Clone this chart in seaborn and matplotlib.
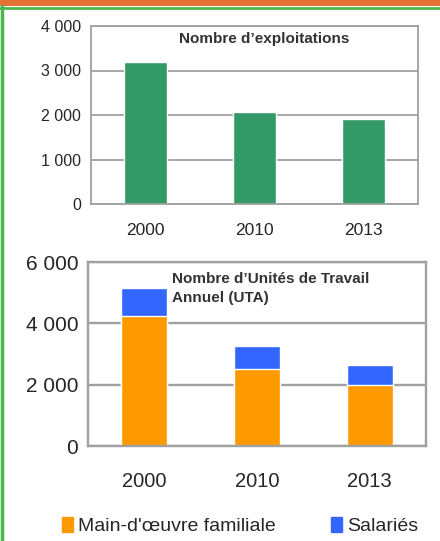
import matplotlib
matplotlib.use("Agg")
import matplotlib.pyplot as plt
from matplotlib.lines import Line2D
from matplotlib.patches import Rectangle
import pandas as pd
import seaborn as sns

sns.set_theme(style="white")
plt.rcParams['font.family'] = ['Liberation Sans', 'DejaVu Sans']

# data
years = ["2000", "2010", "2013"]
exploitations = [3200, 2070, 1910]
main_oeuvre_familiale = [4250, 2520, 2000]
salaries = [910, 750, 650]

GREEN = "#339966"
ORANGE = "#FF9900"
BLUE = "#3366FF"
GRID = "#a0a0a0"

fig = plt.figure(figsize=(4.40, 5.41), dpi=100)

# frame: orange strip, green rules
fig.add_artist(Rectangle((0, 1 - 6 / 541), 1, 6 / 541, transform=fig.transFigure,
                         color="#E37233", lw=0))
fig.add_artist(Line2D([0, 1], [1 - 7.5 / 541] * 2, transform=fig.transFigure,
                      color="#4CB84C", lw=2))
fig.add_artist(Line2D([2 / 440] * 2, [0, 1 - 6 / 541], transform=fig.transFigure,
                      color="#4CB84C", lw=2.5))


def style_axes(ax, ymax, step, yfs, xfs, xpad, lw):
    ax.set_xlim(-0.5, 2.5)
    ax.set_ylim(0, ymax)
    ax.set_yticks(range(0, ymax + 1, step))
    ax.set_yticklabels([f"{v:,}".replace(",", " ") for v in range(0, ymax + 1, step)],
                       fontsize=yfs)
    ax.set_xticks([-0.5, 0.5, 1.5, 2.5], minor=True)
    ax.tick_params(axis="x", which="major", length=0, labelsize=xfs, pad=xpad)
    ax.tick_params(axis="x", which="minor", length=5, width=lw, color=GRID, direction="out")
    ax.tick_params(axis="y", length=5, width=lw, color=GRID, direction="out", pad=2)
    ax.yaxis.grid(True, color=GRID, lw=lw)
    ax.set_axisbelow(True)
    for s in ax.spines.values():
        s.set_color(GRID)
        s.set_linewidth(lw)
    ax.set_xlabel("")
    ax.set_ylabel("")


# top chart: number of farms
ax1 = fig.add_axes([91 / 440, 1 - 204 / 541, 327 / 440, 178 / 541])
df1 = pd.DataFrame({"Année": years, "Exploitations": exploitations})
sns.barplot(data=df1, x="Année", y="Exploitations", color=GREEN, width=0.4,
            saturation=1, ax=ax1)
style_axes(ax1, 4000, 1000, 11.5, 12.5, 14, 1.3)
ax1.text(0.53, 0.925, "Nombre d\u2019exploitations", transform=ax1.transAxes,
         ha="center", va="center", fontsize=11, fontweight="bold", color="#333333")

# bottom chart: UTA, stacked
ax2 = fig.add_axes([88 / 440, 1 - 446 / 541, 338 / 440, 184 / 541])
df2 = pd.DataFrame({"Année": years,
                    "Familiale": main_oeuvre_familiale,
                    "Salariés": salaries})
df2["Total"] = df2["Familiale"] + df2["Salariés"]
sns.barplot(data=df2, x="Année", y="Total", color=BLUE, width=0.41,
            saturation=1, ax=ax2)
sns.barplot(data=df2, x="Année", y="Familiale", color=ORANGE, width=0.41,
            saturation=1, ax=ax2)
style_axes(ax2, 6000, 2000, 15, 14.5, 19, 1.7)
ax2.text(0.248, 0.855, "Nombre d\u2019Unités de Travail\nAnnuel (UTA)",
         transform=ax2.transAxes, ha="left", va="center", fontsize=11,
         fontweight="bold", color="#333333", linespacing=1.4)

# legend
handles = [Rectangle((0, 0), 1, 1, color=ORANGE), Rectangle((0, 0), 1, 1, color=BLUE)]
fig.legend(handles, ["Main-d'\u0153uvre familiale", "Salariés"], loc="center",
           bbox_to_anchor=(240 / 440, 1 - 526 / 541), ncol=2, frameon=False,
           fontsize=14, handlelength=0.6, handleheight=0.8, handletextpad=0.25,
           columnspacing=2.8, borderpad=0)

fig.savefig("out.png", dpi=100)
